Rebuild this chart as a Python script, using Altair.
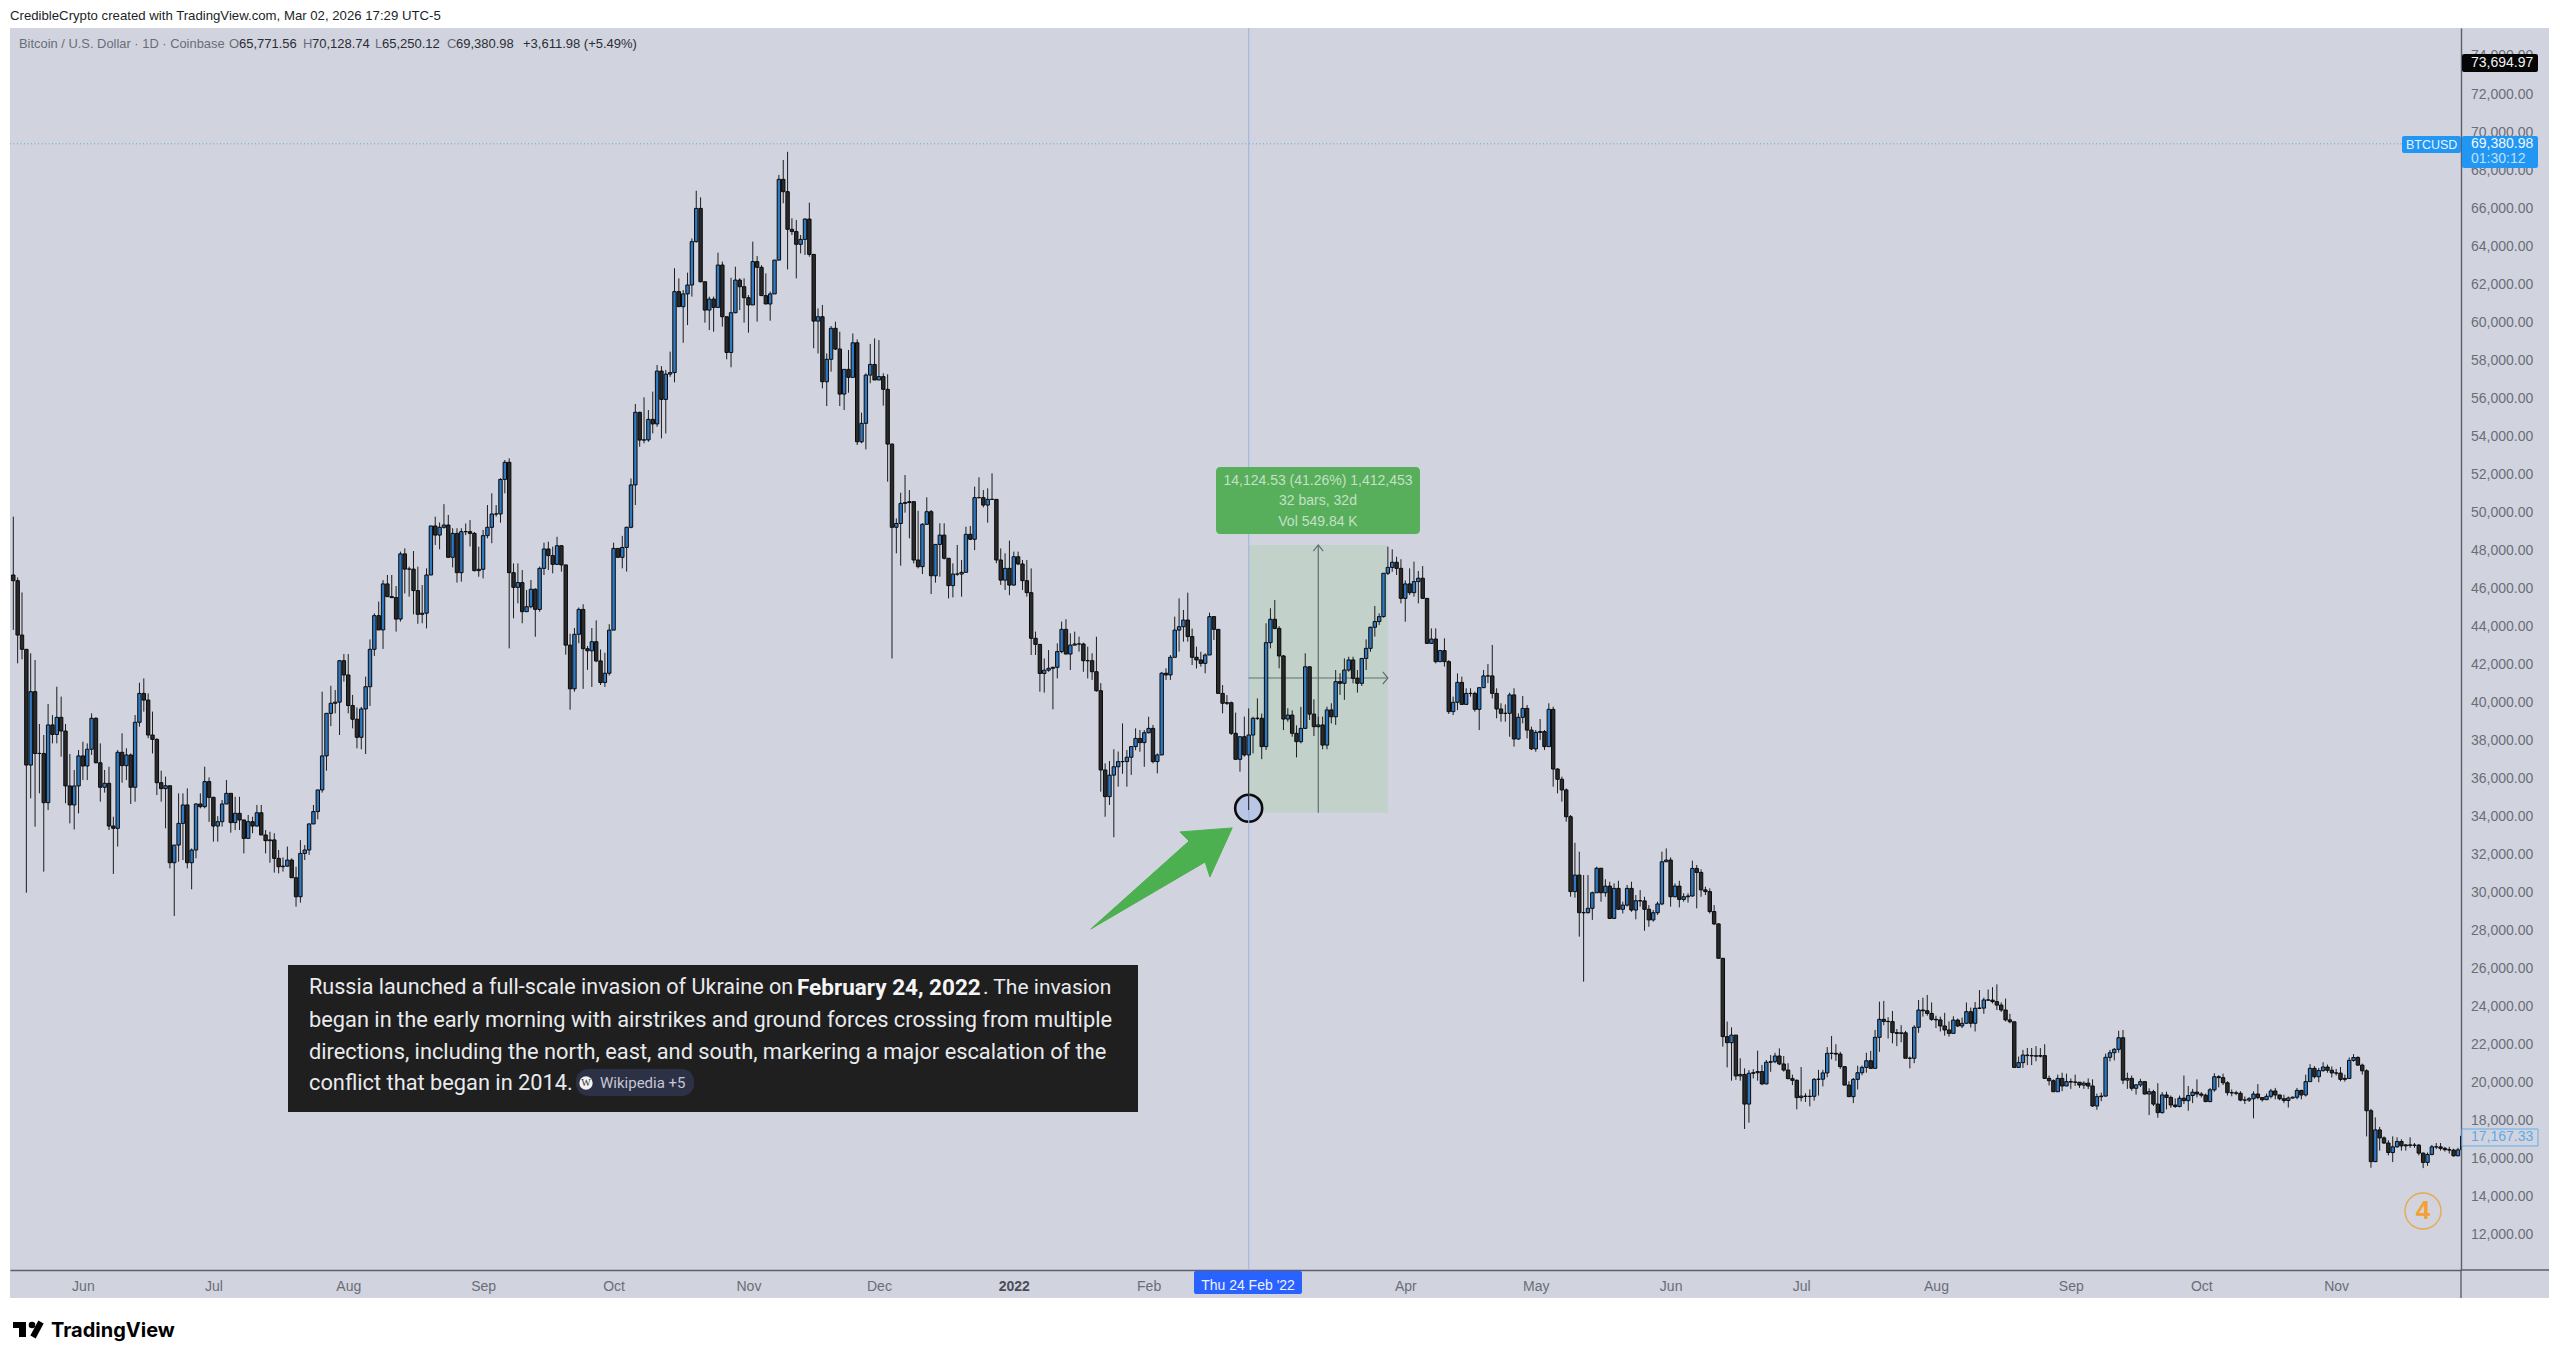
import altair as alt
import pandas as pd

# daily bars, one row per month
close = [
    46390,43530,42780,36690,40550,37300,37300,34710,38800,38300,39200,38480,35590,34590,35590,37170,  # May 21
    36640,37520,39150,36810,35520,35730,33480,33360,37360,36660,37220,35520,38940,40460,40110,38270,38040,35760,35450,35600,31550,32480,33620,34590,31550,32220,34640,34500,35820,34990,
    33480,33710,34640,35200,33660,34150,33800,32830,33710,33480,34180,33010,32710,32750,31780,31340,31370,31690,30760,29760,32040,32220,33590,34240,35380,37170,39410,39940,40000,42180,41430,
    39820,39100,38150,39640,40810,42780,44550,43800,46220,45550,45500,44370,47800,47000,47000,45870,44620,44680,46690,49270,48790,49200,49320,47620,48880,46810,48970,48970,48880,46920,46990,
    48760,49200,49900,49900,51720,52620,46810,46040,46290,44760,45020,45940,44880,47040,48060,47710,47250,48230,47220,43000,40700,43570,44880,42810,42700,43180,42170,41030,41520,43790,
    48090,47620,48140,49200,51430,55250,53790,53800,54880,54640,57420,55930,57260,57340,61600,60810,61480,61950,64230,65980,62120,60630,61210,60770,63000,60280,58400,60490,62210,61860,61280,
    60900,63180,62880,61390,60950,61480,63260,67510,66860,64880,64760,64090,64350,65420,63560,60050,60280,56860,58040,59670,58580,56210,57510,57090,58910,53700,54670,57210,57770,56950,
    57130,56460,53580,49200,49400,50460,50500,50550,47480,47130,49360,50020,46650,48300,48790,47570,46130,46740,46740,46830,48830,48570,50760,50760,50370,50670,50670,47480,46420,47040,46160,
    47650,47270,46390,45760,43360,43040,41510,41680,41780,41830,42660,43830,42530,43000,43060,43060,42180,42180,41600,40600,36430,35030,36160,36600,36870,36870,37100,37660,38090,37870,38390,  # Jan 22
    38620,36870,37220,41520,41430,42360,43790,43970,44320,43450,42360,42220,42040,42480,44500,43830,40460,39940,39970,38360,36990,38180,37220,38270,39150,39150,37660,43130,
    44360,43880,42430,39110,39320,38360,37920,38620,41860,39370,38710,38800,37740,39590,39230,41080,40990,41690,42220,41250,40990,42300,42830,43940,44240,44500,46780,47090,47360,47040,45460,
    46220,45760,46340,46520,45460,43090,43320,42130,42710,42130,39500,39990,41040,39880,40460,40460,39620,40760,41380,41380,40460,39640,39410,39410,40380,38060,39200,39670,38530,37540,
    38410,38450,37660,39620,36480,35940,35380,33970,30030,30900,28920,28920,29150,29970,31260,29970,30320,28620,30200,29100,29320,30200,29060,29550,29540,29100,28540,28920,29380,31600,31690,
    29760,30320,29620,29760,29800,31250,31040,30120,30030,28980,28330,26520,22400,22080,22480,20330,20410,18850,20470,20500,20560,19910,21050,21080,21380,20960,20640,20190,20100,19190,
    19270,19250,19260,20150,20160,20490,21520,21520,21480,20820,19850,19240,20150,20500,20780,21130,20730,22360,23310,23200,23190,22610,22570,22600,21260,21260,22890,23800,23760,23620,23310,
    23280,22960,22750,22570,23270,22960,23100,23710,23100,23890,23900,24330,24320,24240,24060,23800,23280,23180,20780,21030,21430,21400,21390,21370,21400,20200,20080,19500,20200,19800,20030,
    20010,20000,19850,19950,19800,18750,19240,19270,21310,21550,21730,22340,20110,20200,19680,19860,20030,19380,19500,18850,18400,19330,19200,18800,18720,19160,19030,19300,19480,19380,
    19320,18980,19600,20290,20240,19970,19450,19440,19420,19060,19060,19130,19380,19190,19080,19260,19540,19330,19130,19040,19170,19210,19570,19330,20030,20730,20290,20610,20800,20630,20490,
    20480,20150,20200,21150,21300,20900,20600,18500,15820,17490,17070,16800,16300,16600,16880,16650,16700,16680,16690,16270,15780,16200,16600,16600,16520,16450,16430,16130,16440,17167.33,
]
high = [
    49760,46560,45770,42780,42570,42220,38850,38270,39900,39320,40810,40290,38850,37270,36430,37480,
    37920,37830,39410,39200,37830,36430,36600,33970,37480,38360,37570,37300,39320,41020,41250,40460,39500,38100,36390,36080,35600,32480,35200,35200,35460,32300,34680,35200,36600,36040,
    35020,34000,34850,35900,35200,35020,35020,33800,34060,33970,34590,34590,33270,33180,33100,32220,31830,32400,31780,31340,32740,32480,33620,34590,35380,40550,39410,40860,40640,42220,42530,
    42530,40380,39720,39750,41340,43300,44670,45290,46420,46690,46690,46110,47920,48090,47130,47950,47130,46160,47040,49270,49760,49450,50420,49850,49150,49150,49150,49400,49580,48950,48180,
    49060,50370,50990,50370,51780,52740,52830,47300,47300,46950,45900,46430,45990,47130,48390,48440,48180,48700,48270,47220,43600,43900,44980,45150,42950,43900,44300,42770,42600,44100,
    48390,47920,48750,49230,51770,55690,55280,56040,55370,56340,57740,57680,57480,58440,62830,62300,61680,62600,64400,66910,66560,62120,61340,61340,63650,63180,60280,62330,62910,62300,62300,
    61420,64230,63470,62990,62560,61600,63260,67740,68530,68960,65460,65370,64580,65460,66280,63560,60720,60900,58350,59790,60020,59490,57510,58530,59400,59090,55230,57300,58850,59140,
    59050,57300,57250,53600,49670,51020,51950,51160,50460,50070,49410,50780,50110,48300,49410,49410,47570,47300,48270,47480,49230,49270,51340,51830,51160,51250,52040,50670,48090,47830,48500,
    47920,47920,47480,47480,47040,43710,43000,42300,42740,41870,43090,44240,44360,43620,43710,43450,43130,42920,42570,43440,41000,36780,36900,37520,37400,38880,37480,37660,38620,38530,38530,
    39230,38800,37300,41590,41780,42480,44500,45460,44850,45760,43870,42920,42650,42570,44710,44530,43830,40900,40370,40030,39450,38180,39240,39670,39230,40200,39400,44150,
    44940,45370,44000,42480,39680,39570,38780,39750,42570,41870,40150,39240,39240,39760,39940,41690,41520,42300,42390,42390,41690,42300,43300,43970,45060,44670,46780,48180,48040,47650,47520,
    46400,47040,47390,46900,47160,45460,43880,43880,42750,43360,42210,40290,41510,41340,40730,40730,40550,40760,41690,42000,43010,40730,39940,39880,40500,40730,39410,40320,39850,38710,
    38530,39110,38530,39940,39760,36520,36080,35460,34060,32600,32130,30900,30900,30030,31340,31250,30680,30550,30460,30600,29500,30380,30550,29850,30110,29760,29320,29060,29500,32130,32300,
    31830,30460,30600,29940,29940,31660,31430,31200,30290,30200,29320,28360,26520,23190,22890,22480,21260,20730,20640,20680,21660,20910,21170,21430,21550,21780,21380,21000,20400,20150,
    20800,19420,19620,20220,20650,20650,21850,22430,22000,21600,20850,20050,20220,20870,20880,21550,21650,22750,24240,24280,23420,23750,22800,23000,22700,21350,23000,24330,24450,24590,24200,
    23500,23450,23650,23200,23470,23350,23400,24200,23930,24220,24850,24450,24880,25000,25150,24200,24400,23600,23180,21350,21700,21800,21800,21900,21800,22000,20350,20150,20400,20500,20450,
    20200,20400,20000,20050,20200,20150,19400,19450,21500,21700,21800,22710,22750,20500,20350,19900,20180,20050,19680,19600,19950,19480,19500,19300,19150,19300,20350,19800,19650,20150,
    19480,19400,19700,20470,20370,20450,20050,19620,19550,19520,19250,19220,19520,19900,19220,19400,19650,19700,19340,19340,19250,19250,19700,19600,20400,20950,20850,20750,21050,20930,20830,
    20700,20800,20400,21300,21480,21370,20980,20680,18600,18150,17650,17150,16950,17150,17100,17000,16750,17100,16800,16750,16300,16300,16700,16800,16800,16600,16600,16500,16550,17200,
]
low = [
    43800,42040,42250,29970,34940,33450,35200,31080,34320,37830,37830,37130,34680,33620,33300,34150,
    35900,35900,37220,36780,34760,35240,33270,30960,32400,35760,35900,34640,34760,38710,39500,38100,37300,35110,34760,33360,31250,28750,31600,31690,31250,30150,31780,34410,34410,33700,
    32660,32660,33450,34640,33130,33270,33270,32040,32830,33100,33450,33010,32040,31550,31030,30990,31080,31340,30760,29240,29450,31690,31960,33590,33830,35240,36390,38740,39410,38270,41080,
    39410,38620,37570,37520,37270,39800,42430,43800,42800,45550,45550,43710,44240,45720,45550,44620,44120,44150,43880,46690,48270,48040,49130,47620,47090,46290,46340,48790,48190,46880,46600,
    46510,48620,48360,49760,49440,50990,42830,44410,45200,44150,44760,44930,43440,44760,46690,46950,46780,47220,46870,42500,39600,40550,43100,40700,41700,40800,42100,40900,40800,41400,
    43800,47580,47040,46870,49150,50370,53440,53620,53700,54140,54490,53880,54140,57120,56830,60810,58910,59840,61340,64180,62090,59970,59580,59490,60770,59760,58040,57620,60460,60630,59970,
    59440,60900,60020,61390,60950,60070,61480,63260,66250,62770,64580,62300,63610,63530,63440,58620,58350,56510,55580,57390,58530,55580,55370,56280,57090,53530,53620,53300,56780,56950,
    56950,55600,51600,42300,47830,47180,49970,48620,47300,47040,46740,49320,45690,46290,46600,47510,45460,45510,46650,45550,46830,48530,48000,50720,50250,49440,50670,47310,46170,45900,45630,
    46130,47210,45900,45550,42480,42480,40550,40500,41600,39620,41250,42570,42530,41690,43000,42660,41600,41250,41170,40550,35290,33970,34590,32890,35550,36230,35550,36170,37470,37390,36600,
    38350,36780,36250,37220,41170,41170,42390,42660,43180,43180,41950,41770,41870,41520,42480,43270,40460,39410,39850,38270,36990,36340,37130,34320,37300,39060,37000,37480,
    42830,43830,41780,38530,38970,38180,37090,37830,38620,39060,38220,38670,37520,37520,38880,38800,40380,40120,41600,40990,40500,40850,41690,42650,43450,44060,44450,46690,46860,46690,45200,
    44230,45640,45550,45200,45460,43090,43090,42040,42130,41870,39380,39320,39580,39880,40110,40290,39500,38530,40760,41000,40190,39150,38970,38970,38180,37660,38010,38880,38090,37480,
    37390,38010,37480,37660,35550,35200,34760,33710,29760,29710,27660,25290,28880,28540,29970,29500,29760,28590,28590,29060,28880,29240,28970,28570,29240,27970,28180,28450,28800,29320,31600,
    29240,29730,29200,29500,29450,29760,29150,29760,29850,28880,28270,26520,21870,20780,20080,20120,20080,17540,17870,20200,20080,19850,19900,20550,21000,20900,20560,20150,19850,18570,
    18990,18960,18730,19030,19300,19780,20260,21200,21120,20700,19850,19220,18900,19620,20370,20500,20730,20750,21600,23000,22300,22050,21900,22100,21300,20730,21000,22600,23450,23500,23230,
    22850,22670,22450,22400,22600,22900,22850,23100,22880,22670,23850,23600,24300,24150,23800,23700,23200,23100,20780,20800,20750,20900,20900,21100,21300,20200,19830,19500,19550,19530,19800,
    19650,19800,19700,19650,19640,18700,18550,19000,19250,21100,21150,21550,19900,19650,19550,19350,19750,19350,18270,18750,18130,18350,18570,18650,18650,18680,18850,18500,18900,19200,
    19200,18950,18950,19500,19730,19850,19300,19260,19320,19000,18850,18960,18100,19100,18980,19070,19150,19100,19050,18900,18670,19130,19100,19100,19250,20050,20200,20000,20550,20500,20250,
    20350,20050,20030,20180,21080,20880,20400,17150,15500,15800,16400,16750,16150,15800,16550,16400,16400,16550,16550,16150,15480,15600,16150,16480,16400,16350,16250,16080,16100,16400,
]
first_open = 46690
start_date = "2021-05-16"

price_ticks = list(range(12000, 76000, 2000))
month_ticks = [
    "2021-06-01", "2021-07-01", "2021-08-01", "2021-09-01", "2021-10-01", "2021-11-01", "2021-12-01",
    "2022-01-01", "2022-02-01", "2022-04-01", "2022-05-01", "2022-06-01", "2022-07-01", "2022-08-01",
    "2022-09-01", "2022-10-01", "2022-11-01",
]

last_price = 69380.98
event_date = "2022-02-24"
measure_end = "2022-03-28"
measure_mid = "2022-03-12"
measure_low = 34180
measure_high = 48270
measure_mid_price = 41270
event_price = 34414

arrow_dates = ["2022-01-18T17:00:00Z", "2022-02-10T07:00:00Z", "2022-02-08T05:00:00Z", "2022-02-20T05:00:00Z",
               "2022-02-15T02:00:00Z", "2022-02-14T00:00:00Z", "2022-01-18T17:00:00Z"]
arrow_prices = [28060, 32690, 33170, 33380, 30800, 31590, 28060]

# page position of the plot area
X0, Y0 = 10, 28
W, H = 2451, 1242

BG = "#d1d4de"
GREY = "#6a6d78"
DARK = "#2a2d36"
SANS = "Liberation Sans"
one = pd.DataFrame({"a": [0]})

opens = [first_open] + close[:-1]
bars = pd.DataFrame({
    "date": pd.date_range(start_date, periods=len(close)).strftime("%Y-%m-%d"),
    "open": opens, "close": close, "high": high, "low": low,
})
bars["dir"] = ["up" if c >= o else "down" for o, c in zip(opens, close)]

# padding=0: a bar mark would otherwise pad the time scale by its own width
x_scale = alt.Scale(type="utc", domain=["2021-05-15T05:47:00Z", "2022-11-29T16:48:00Z"], padding=0)
y_scale = alt.Scale(domain=[10119, 75473], nice=False, zero=False)

x_axis = alt.Axis(
    values=month_ticks, ticks=False, grid=False, domainColor="#5d606b", domainWidth=1.4, title=None,
    labelExpr="utcmonth(datum.value) == 0 ? '2022' : utcFormat(datum.value, '%b')",
    labelFontWeight={"condition": {"test": "utcmonth(datum.value) == 0", "value": "bold"}, "value": "normal"},
    labelColor={"condition": {"test": "utcmonth(datum.value) == 0", "value": "#4a4d57"}, "value": GREY},
    labelFont=SANS, labelFontSize=14, labelPadding=9, labelOverlap=False,
)
y_axis = alt.Axis(
    orient="right", values=price_ticks, format=",.2f", ticks=False, grid=False, domainColor="#5d606b", title=None,
    domainWidth=1.4, labelColor=GREY, labelFont=SANS, labelFontSize=14, labelPadding=9.5, labelOverlap=False,
)


def X(f="date:T"):
    return alt.X(f, scale=x_scale, axis=x_axis)


def Y(f):
    return alt.Y(f, scale=y_scale, axis=y_axis)


def px(x, y):
    return {"x": alt.value(x - X0), "y": alt.value(y - Y0)}


def box(x1, y1, x2, y2, color, radius=0, **kw):
    return alt.Chart(one).mark_rect(color=color, cornerRadius=radius, **kw).encode(
        x=alt.value(x1 - X0), x2=alt.value(x2 - X0), y=alt.value(y1 - Y0), y2=alt.value(y2 - Y0)
    )


def line(x1, y1, x2, y2, color, width=1, **kw):
    return alt.Chart(one).mark_rule(color=color, strokeWidth=width, **kw).encode(
        x=alt.value(x1 - X0), x2=alt.value(x2 - X0), y=alt.value(y1 - Y0), y2=alt.value(y2 - Y0)
    )


def label(text, x, y, size=14, color=GREY, weight="normal", align="left", font=SANS):
    return alt.Chart(one).mark_text(
        text=text, fontSize=size, color=color, fontWeight=weight, align=align, baseline="middle", font=font
    ).encode(**px(x, y))


def dot(x, y, size, fill, stroke=None, width=0):
    kw = {"stroke": stroke, "strokeWidth": width} if stroke else {"strokeWidth": 0}
    return alt.Chart(one).mark_point(shape="circle", filled=True, size=size, fill=fill, opacity=1, **kw).encode(**px(x, y))


frame = [
    box(-10, 0, 2560, 28, "white"),
    box(-10, 28, 10, 1298, "white"),
    box(2549, 28, 2560, 1298, "white"),
    box(-10, 1298, 2560, 1361, "white"),
]

measure = (
    alt.Chart(pd.DataFrame({"d1": [event_date], "d2": [measure_end], "p1": [measure_low], "p2": [measure_high]}))
    .mark_rect(color="#c2d2cb")
    .encode(x=X("d1:T"), x2="d2:T", y=Y("p1:Q"), y2="p2:Q")
)
cross_v = alt.Chart(pd.DataFrame({"date": [event_date]})).mark_rule(color="#9fb4dc", strokeWidth=1.2, opacity=0.9).encode(
    x=X(), y=alt.value(0), y2=alt.value(H)
)
price_line = alt.Chart(pd.DataFrame({"p": [last_price]})).mark_rule(
    color="#5fa5dc", strokeWidth=1, strokeDash=[1, 2.5]
).encode(y=Y("p:Q"), x=alt.value(0), x2=alt.value(W))
event_dot = (
    alt.Chart(pd.DataFrame({"date": [event_date], "p": [event_price]}))
    .mark_point(shape="circle", filled=True, size=729, fill="#b9c6e6", stroke="#0c0c0c", strokeWidth=2.6, opacity=1)
    .encode(x=X(), y=Y("p:Q"))
)

wicks = alt.Chart(bars).mark_rule(color="#1d1d1f", strokeWidth=1, clip=True).encode(
    x=X(), y=Y("low:Q"), y2="high:Q"
)
bodies = alt.Chart(bars).mark_bar(size=3.4, stroke="#0a0a0a", strokeWidth=1, clip=True).encode(
    x=X(), y=Y("open:Q"), y2="close:Q",
    color=alt.Color("dir:N", scale=alt.Scale(domain=["up", "down"], range=["#2f79c2", "#2a2a2c"]), legend=None),
)

stem_v = alt.Chart(pd.DataFrame({"date": [measure_mid], "p1": [measure_low], "p2": [measure_high]})).mark_rule(
    color="#5f6e6b", strokeWidth=1.2
).encode(x=X(), y=Y("p1:Q"), y2="p2:Q")
stem_h = alt.Chart(pd.DataFrame({"d1": [event_date], "d2": [measure_end], "p": [measure_mid_price]})).mark_rule(
    color="#5f6e6b", strokeWidth=1.2
).encode(x=X("d1:T"), x2="d2:T", y=Y("p:Q"))
head_v = alt.Chart(pd.DataFrame({
    "date": ["2022-03-10T21:00:00Z", "2022-03-12T00:00:00Z", "2022-03-13T03:00:00Z"],
    "p": [measure_high - 320, measure_high, measure_high - 320], "o": [0, 1, 2],
})).mark_line(color="#5f6e6b", strokeWidth=1.2).encode(x=X(), y=Y("p:Q"), order="o:Q")
head_h = alt.Chart(pd.DataFrame({
    "date": ["2022-03-26T20:00:00Z", "2022-03-28T00:00:00Z", "2022-03-26T20:00:00Z"],
    "p": [measure_mid_price + 320, measure_mid_price, measure_mid_price - 320], "o": [0, 1, 2],
})).mark_line(color="#5f6e6b", strokeWidth=1.2).encode(x=X(), y=Y("p:Q"), order="o:Q")

green_arrow = alt.Chart(pd.DataFrame({"date": arrow_dates, "p": arrow_prices, "o": range(len(arrow_prices))})).mark_line(
    color="#4caf50", fill="#4caf50", strokeWidth=1, interpolate="linear-closed"
).encode(x=X(), y=Y("p:Q"), order="o:Q")

measure_tag = [
    box(1216, 467, 1420, 534, "#57ae5b", radius=4),
    label("14,124.53 (41.26%) 1,412,453", 1318, 481, color="#c5e0c6", align="center"),
    label("32 bars, 32d", 1318, 501, color="#c5e0c6", align="center"),
    label("Vol 549.84 K", 1318, 522, color="#c5e0c6", align="center"),
]

note = [
    box(288, 965, 1138, 1112, "#1f1f1f"),
    label("Russia launched a full-scale invasion of Ukraine on", 309, 988, 21.6, "#e8eaed", font="Roboto"),
    label("February 24, 2022", 797, 988, 22.5, "#f4f5f6", "bold", font="Roboto"),
    label(". The invasion", 983, 988, 21, "#e8eaed", font="Roboto"),
    label("began in the early morning with airstrikes and ground forces crossing from multiple", 309, 1020, 21.8, "#e8eaed", font="Roboto"),
    label("directions, including the north, east, and south, markering a major escalation of the", 309, 1052, 21.8, "#e8eaed", font="Roboto"),
    label("conflict that began in 2014.", 309, 1083, 21.8, "#e8eaed", font="Roboto"),
    box(576, 1069, 694, 1096, "#2d3145", radius=12),
    dot(586, 1083, 180, "#f2f2f2"),
    label("W", 586, 1083, 10, "#333333", align="center", font="Liberation Serif"),
    label("Wikipedia +5", 600, 1083, 15, "#c5c8d6", font="Roboto"),
]

legend = [
    label("CredibleCrypto created with TradingView.com, Mar 02, 2026 17:29 UTC-5", 10, 16, 13.2, "#1c1f28"),
    label("Bitcoin / U.S. Dollar · 1D · Coinbase", 19, 44, 12.9, GREY),
    label("O", 229, 44, 13, GREY), label("65,771.56", 239, 44, 13, DARK),
    label("H", 303, 44, 13, GREY), label("70,128.74", 312, 44, 13, DARK),
    label("L", 375, 44, 13, GREY), label("65,250.12", 382, 44, 13, DARK),
    label("C", 447, 44, 13, GREY), label("69,380.98", 456, 44, 13, DARK),
    label("+3,611.98 (+5.49%)", 523, 44, 13, DARK),
]

tags = [
    line(2461, 1270, 2461, 1298, "#5d606b", 1.4),
    line(2461, 1270, 2549, 1270, "#5d606b", 1.4),
    box(2462, 54, 2538, 72, "#050505", radius=2),
    label("73,694.97", 2471, 63, 14, "#f2f2f2"),
    box(2402, 136, 2461, 153, "#2196f3", radius=2),
    label("BTCUSD", 2406, 145, 12.5, "#e6f3fd"),
    box(2462, 136, 2538, 168, "#2196f3", radius=2),
    label("69,380.98", 2471, 144, 14, "#f0f8fe"),
    label("01:30:12", 2471, 159, 14, "#bfe0fa"),
    box(2462, 1129, 2538, 1146, BG, stroke="#64ade8", strokeWidth=1),
    label("17,167.33", 2471, 1137, 14, "#5ea9e8"),
    box(1194, 1271, 1302, 1294, "#2962ff", radius=2),
    label("Thu 24 Feb '22", 1248, 1286, 14, "#eef2ff", align="center"),
    dot(2423, 1211, 1296, BG, "#e8a94f", 1.4),
    label("4", 2423, 1211, 26, "#f5a030", "bold", align="center"),
]

logo = [
    box(13, 1322, 26, 1328, "#000000"),
    box(19, 1322, 26, 1337, "#000000"),
    dot(32, 1325, 44, "#000000"),
    line(41, 1322, 33, 1337, "#000000", 6),
    label("TradingView", 51, 1331, 20, "#000000", "bold", font="Inter"),
]

layers = (
    [measure, event_dot, cross_v, price_line, stem_v, stem_h, head_v, head_h, wicks, bodies, green_arrow]
    + frame + measure_tag + note + legend + tags + logo
)

chart = (
    alt.layer(*layers)
    .properties(
        width=W, height=H, background=BG,
        padding={"left": 2, "top": 20, "right": 91, "bottom": 83},
        autosize=alt.AutoSizeParams(type="none"),
    )
    .configure_view(strokeWidth=0)
)

chart.save("out.html", embed_options={"renderer": "svg", "actions": False})
